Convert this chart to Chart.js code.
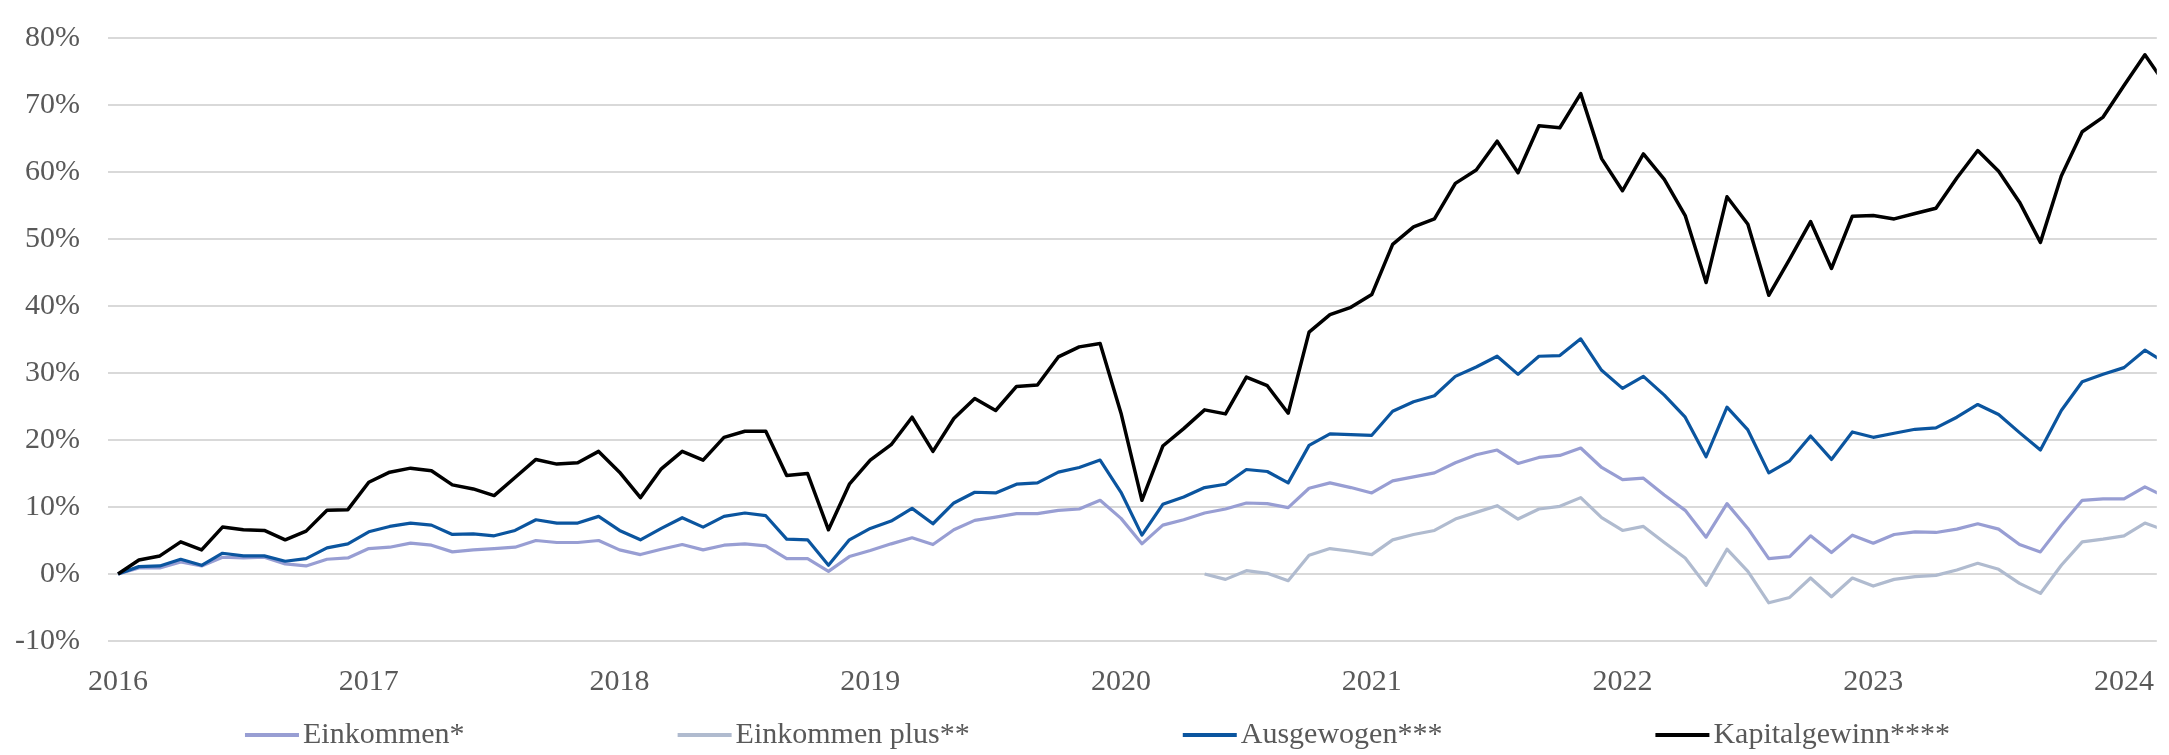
<!DOCTYPE html>
<html>
<head>
<meta charset="utf-8">
<script src="https://cdn.jsdelivr.net/npm/chart.js@4.4.1/dist/chart.umd.min.js"></script>
<style>
    html, body { margin: 0; padding: 0; background: #ffffff; overflow: hidden; }
    #wrap { width: 2169px; height: 755px; }
</style>
</head>
<body>
<div id="wrap"><canvas id="myChart" width="2169" height="755"></canvas></div>
<script>
// tick labels, one per January
const years = ['2016', '2017', '2018', '2019', '2020', '2021', '2022', '2023', '2024'];

// monthly values in %, first value = Jan 2016
const einkommen = [
    0, 0.9, 0.9, 1.8, 1.2, 2.5, 2.4, 2.5, 1.5, 1.2, 2.2, 2.4, 3.8, 4.0, 4.6, 4.3,
    3.3, 3.6, 3.8, 4.0, 5.0, 4.7, 4.7, 5.0, 3.6, 2.9, 3.7, 4.4, 3.6, 4.3, 4.5, 4.2,
    2.3, 2.3, 0.4, 2.6, 3.5, 4.5, 5.4, 4.4, 6.6, 8.0, 8.5, 9.0, 9.0, 9.5, 9.7, 11.0,
    8.3, 4.5, 7.3, 8.1, 9.1, 9.7, 10.6, 10.5, 9.9, 12.8, 13.6, 12.9, 12.1, 13.9, 14.5, 15.1,
    16.6, 17.8, 18.5, 16.5, 17.4, 17.7, 18.8, 15.9, 14.1, 14.3, 11.8, 9.5, 5.5, 10.5, 6.8, 2.3,
    2.6, 5.7, 3.2, 5.8, 4.6, 5.9, 6.3, 6.2, 6.7, 7.5, 6.7, 4.4, 3.3, 7.3, 11.0, 11.2, 11.2, 13.0, 11.5
];

// starts later (May 2020)
const einkommenPlusStart = 52;
const einkommenPlus = [
    0.0, -0.8, 0.5, 0.1, -1.0, 2.8, 3.8, 3.4, 2.9, 5.1, 5.9, 6.5,
    8.2, 9.2, 10.2, 8.2, 9.7, 10.1, 11.4, 8.4, 6.5, 7.1, 4.7, 2.4, -1.7, 3.7, 0.4, -4.3,
    -3.5, -0.6, -3.4, -0.6, -1.8, -0.8, -0.4, -0.2, 0.6, 1.6, 0.7, -1.4, -2.9, 1.3, 4.8, 5.2, 5.7, 7.6, 6.5
];

const ausgewogen = [
    0, 1.1, 1.2, 2.2, 1.3, 3.1, 2.7, 2.7, 1.9, 2.3, 3.9, 4.5, 6.3, 7.1, 7.6, 7.3,
    5.9, 6.0, 5.7, 6.5, 8.1, 7.6, 7.6, 8.6, 6.5, 5.1, 6.8, 8.4, 7.0, 8.6, 9.1, 8.7,
    5.2, 5.1, 1.3, 5.1, 6.8, 7.9, 9.8, 7.5, 10.6, 12.2, 12.1, 13.4, 13.6, 15.2, 15.9, 17.0,
    12.2, 5.8, 10.4, 11.5, 12.9, 13.4, 15.6, 15.3, 13.6, 19.2, 20.9, 20.8, 20.7, 24.3, 25.7, 26.6,
    29.5, 30.9, 32.5, 29.8, 32.5, 32.6, 35.1, 30.4, 27.7, 29.5, 26.7, 23.4, 17.5, 24.9, 21.5, 15.1,
    16.9, 20.6, 17.1, 21.2, 20.4, 21.0, 21.6, 21.8, 23.4, 25.3, 23.8, 21.1, 18.5, 24.4, 28.7, 29.8, 30.8, 33.4, 31.5
];

const kapitalgewinn = [
    0, 2.1, 2.7, 4.8, 3.6, 7.0, 6.6, 6.5, 5.1, 6.4, 9.5, 9.6, 13.7, 15.2, 15.8, 15.4,
    13.3, 12.7, 11.7, 14.4, 17.1, 16.4, 16.6, 18.3, 15.2, 11.4, 15.7, 18.3, 17.0, 20.4, 21.3, 21.3,
    14.7, 15.0, 6.6, 13.4, 17.0, 19.3, 23.4, 18.3, 23.2, 26.2, 24.4, 28.0, 28.2, 32.4, 33.9, 34.4,
    24.0, 11.0, 19.1, 21.7, 24.5, 23.9, 29.4, 28.1, 24.0, 36.1, 38.7, 39.8, 41.7, 49.2, 51.8, 53.0,
    58.3, 60.3, 64.6, 59.9, 66.9, 66.6, 71.7, 62.0, 57.2, 62.7, 58.9, 53.5, 43.5, 56.3, 52.2, 41.6,
    47.0, 52.6, 45.6, 53.4, 53.5, 53.0, 53.8, 54.6, 59.1, 63.2, 60.1, 55.5, 49.5, 59.4, 66.0, 68.2, 72.9, 77.5, 73.0
];

const seriesNames = ['Einkommen*', 'Einkommen plus**', 'Ausgewogen***', 'Kapitalgewinn****'];
const seriesColors = ['#989ed3', '#b0bbcf', '#0b559f', '#000000'];

const fontFamily = '"Liberation Serif", "Times New Roman", serif';
const textColor = '#595959';

document.addEventListener('DOMContentLoaded', init, false);

function init(){
    createChart();
}

// month index -> point, x is months since Jan 2016
function toPoints(values, start){
    return values.map((v, i) => ({x: start + i, y: v}));
}

// legend drawn by hand: line sample right against the text, wide gaps
const lineLegend = {
    id: 'lineLegend',
    afterDraw(chart){
        const ctx = chart.ctx;
        const sample = 54, gap = 4, spacing = 213;
        ctx.save();
        ctx.font = '30px ' + fontFamily;
        let widths = chart.data.datasets.map(ds => ctx.measureText(ds.label).width);
        let total = widths.reduce((a, w) => a + sample + gap + w, 0) + spacing * (widths.length - 1);
        let x = chart.width / 2 + 13 - total / 2;
        chart.data.datasets.forEach((ds, i) => {
            ctx.strokeStyle = ds.borderColor;
            ctx.lineWidth = 4;
            ctx.beginPath();
            ctx.moveTo(x, 735);
            ctx.lineTo(x + sample, 735);
            ctx.stroke();
            ctx.fillStyle = textColor;
            ctx.textBaseline = 'alphabetic';
            ctx.textAlign = 'left';
            ctx.fillText(ds.label, x + sample + gap, 743);
            x += sample + gap + widths[i] + spacing;
        });
        ctx.restore();
    }
};

function createChart(){
    const ctx = document.getElementById('myChart');
    const allSeries = [
        toPoints(einkommen, 0),
        toPoints(einkommenPlus, einkommenPlusStart),
        toPoints(ausgewogen, 0),
        toPoints(kapitalgewinn, 0)
    ];
    const data = {
        datasets: allSeries.map((pts, i) => ({
            label: seriesNames[i],
            data: pts,
            borderColor: seriesColors[i],
            backgroundColor: seriesColors[i],
            borderWidth: i === 3 ? 3.5 : 3.2,
            pointRadius: 0,
            tension: 0,
            borderJoinStyle: 'round',
            order: 3 - i,
            clip: 0
        }))
    };
    const config = {
        type: 'line',
        data: data,
        plugins: [lineLegend],
        options: {
            responsive: false,
            animation: false,
            layout: { padding: { top: 38, right: 0, bottom: 54, left: 0 } },
            plugins: {
                legend: { display: false },
                tooltip: { enabled: false }
            },
            scales: {
                x: {
                    type: 'linear',
                    min: -0.48,
                    max: 97.57,
                    afterBuildTicks: (scale) => {
                        scale.ticks = years.map((y, i) => ({value: i * 12}));
                    },
                    afterFit: (scale) => { scale.height = 60; },
                    ticks: {
                        autoSkip: false,
                        maxRotation: 0,
                        padding: 15,
                        color: textColor,
                        font: { family: fontFamily, size: 30 },
                        callback: (v) => years[Math.round(v / 12)]
                    },
                    grid: { display: false },
                    border: { display: false }
                },
                y: {
                    min: -10,
                    max: 80,
                    afterFit: (scale) => { scale.width = 108; },
                    ticks: {
                        stepSize: 10,
                        padding: 6,
                        color: textColor,
                        font: { family: fontFamily, size: 30 },
                        callback: (v) => v + '%'
                    },
                    // invisible tick marks keep the labels away from the plot
                    grid: { color: '#d9d9d9', lineWidth: 2, tickLength: 22, tickColor: 'rgba(0,0,0,0)' },
                    border: { display: false }
                }
            }
        }
    };
    new Chart(ctx, config);
}
</script>
</body>
</html>
